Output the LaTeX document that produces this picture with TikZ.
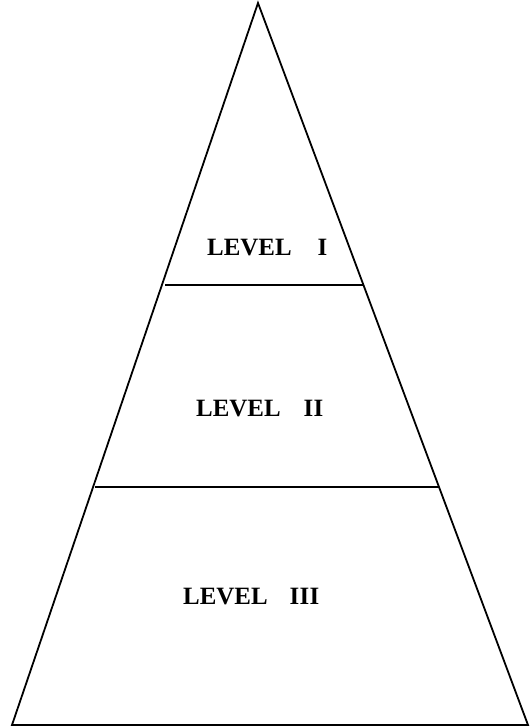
\documentclass[tikz,border=0pt]{standalone}
\usepackage{fontspec}
\setmainfont{Liberation Serif}
\usetikzlibrary{positioning}
\tikzset{
  side/.style={line width=1.8bp,line join=miter},
  rung/.style={line width=1.4bp},
  lvl/.style={anchor=base west,inner sep=0pt,font=\fontsize{25}{28}\selectfont\bfseries},
}

\begin{document}
\begin{tikzpicture}[x=1bp,y=-1bp]
  \useasboundingbox (0,0) rectangle (530,728);
  % outline of the pyramid
  \coordinate (apex) at (258,3);
  \coordinate (bl) at (12,725);
  \coordinate (br) at (528,725);
  \draw[side] (bl) -- (apex) -- (br) -- cycle;
  % dividing lines
  \coordinate (l1) at (165,285);
  \coordinate (r1) at (363,285);
  \coordinate (l2) at (95,487);
  \coordinate (r2) at (439,487);
  \draw[rung] (l1) -- (r1);
  \draw[rung] (l2) -- (r2);
  % labels
  \node[lvl] (lvI) at (207,255.5) {LEVEL\hspace{26bp}I};
  \node[lvl] (lvII) at (196,416.5) {LEVEL\hspace{23bp}I\kern0.3bp I};
  \node[lvl] (lvIII) at (183,604) {LEVEL\hspace{22bp}I\kern0.3bp I\kern0.3bp I};
\end{tikzpicture}
\end{document}
